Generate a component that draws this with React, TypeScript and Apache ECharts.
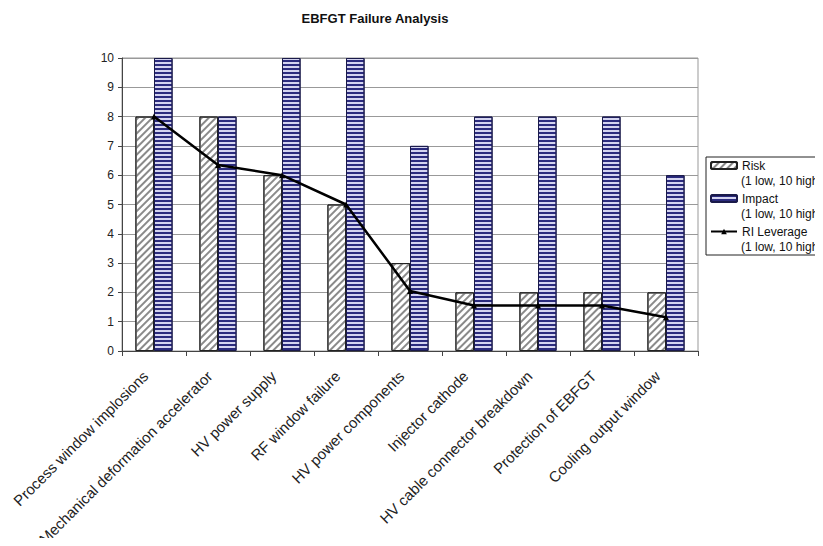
import React, { useEffect, useRef } from "react";
import * as echarts from "echarts";

const categories = [
  "Process window implosions",
  "Mechanical deformation accelerator",
  "HV power supply",
  "RF window failure",
  "HV power components",
  "Injector cathode",
  "HV cable connector breakdown",
  "Protection of EBFGT",
  "Cooling output window",
];
const riskValues = [8, 8, 6, 5, 3, 2, 2, 2, 2];
const impactValues = [10, 8, 10, 10, 7, 8, 8, 8, 6];
const leverageValues = [8, 6.35, 6, 5, 2.05, 1.55, 1.55, 1.55, 1.15];
const yTicks = [0, 1, 2, 3, 4, 5, 6, 7, 8, 9, 10];
const seriesNames = ["Risk", "Impact", "RI Leverage"];
const legendSub = "(1 low, 10 high)";

const FONT = "'Liberation Sans', Arial, sans-serif";

const LEGEND_TOP = 157;
const LEGEND_PAD_TOP = 1;
const ITEM_H = 15;
const ITEM_GAP = 18;

export default function App() {
  const ref = useRef<HTMLDivElement>(null);
  useEffect(() => {
    if (!ref.current) return;
    const chart = echarts.init(ref.current, null, { renderer: "svg" });
    const subTexts = seriesNames.map((_, i) => ({
      type: "text",
      x: 741,
      y: LEGEND_TOP + LEGEND_PAD_TOP + ITEM_H / 2 + i * (ITEM_H + ITEM_GAP) + 15,
      z: 100,
      style: {
        text: legendSub,
        fontSize: 12,
        fontFamily: FONT,
        fill: "#111",
        verticalAlign: "middle",
        align: "left",
      },
    }));
    chart.setOption({
      animation: false,
      backgroundColor: "#fff",
      textStyle: { fontFamily: FONT },
      title: {
        text: "EBFGT Failure Analysis",
        left: 370,
        textAlign: "center",
        top: 7,
        textStyle: { fontSize: 13, fontWeight: "bold", color: "#111", fontFamily: FONT },
      },
      legend: {
        orient: "vertical",
        left: 706,
        top: LEGEND_TOP,
        data: seriesNames,
        borderColor: "#222",
        borderWidth: 1,
        padding: [LEGEND_PAD_TOP, 60, 16, 4],
        itemGap: ITEM_GAP,
        itemWidth: 26,
        itemHeight: 7,
        textStyle: {
          fontSize: 12,
          lineHeight: ITEM_H,
          color: "#111",
          fontFamily: FONT,
        },
      },
      graphic: subTexts,
      grid: {
        left: 122,
        right: 125,
        top: 58,
        bottom: 195,
        show: true,
        borderColor: "#999",
        borderWidth: 1,
        containLabel: false,
        outerBoundsMode: "none",
      },
      xAxis: {
        type: "category",
        data: categories,
        axisLine: { lineStyle: { color: "#444", width: 1 } },
        axisTick: { show: true, length: 5, lineStyle: { color: "#444" } },
        axisLabel: {
          rotate: 45,
          interval: 0,
          fontSize: 15,
          color: "#222",
          margin: 14,
          padding: [0, 12, 0, 0],
          fontFamily: FONT,
        },
      },
      yAxis: {
        type: "value",
        min: yTicks[0],
        max: yTicks[yTicks.length - 1],
        interval: 1,
        axisLine: { show: true, lineStyle: { color: "#444", width: 1 } },
        axisTick: { show: true, length: 4, lineStyle: { color: "#444" } },
        axisLabel: { fontSize: 12, color: "#222", margin: 8, fontFamily: FONT },
        splitLine: { lineStyle: { color: "#999", width: 1 } },
      },
      series: [
        {
          name: seriesNames[0],
          type: "bar",
          data: riskValues,
          barGap: "0%",
          barCategoryGap: "42%",
          itemStyle: {
            color: "#ffffff",
            borderColor: "#222",
            borderWidth: 1,
            decal: {
              symbol: "rect",
              color: "#8a8a8a",
              dashArrayX: [1, 0],
              dashArrayY: [1.5, 3],
              rotation: -Math.PI / 4,
            },
          },
        },
        {
          name: seriesNames[1],
          type: "bar",
          data: impactValues,
          barGap: "0%",
          barCategoryGap: "42%",
          itemStyle: {
            color: "#d4d4f0",
            borderColor: "#1a1a4a",
            borderWidth: 1,
            decal: {
              symbol: "rect",
              color: "#2b2b7e",
              dashArrayX: [1, 0],
              dashArrayY: [2, 1.6],
              rotation: 0,
            },
          },
        },
        {
          name: seriesNames[2],
          type: "line",
          data: leverageValues,
          symbol: "triangle",
          symbolSize: 6,
          itemStyle: { color: "#000" },
          lineStyle: { color: "#000", width: 2.5 },
          z: 5,
        },
      ],
    });
    return () => chart.dispose();
  }, []);
  return <div ref={ref} style={{ width: 823, height: 546, margin: -8 }} />;
}
